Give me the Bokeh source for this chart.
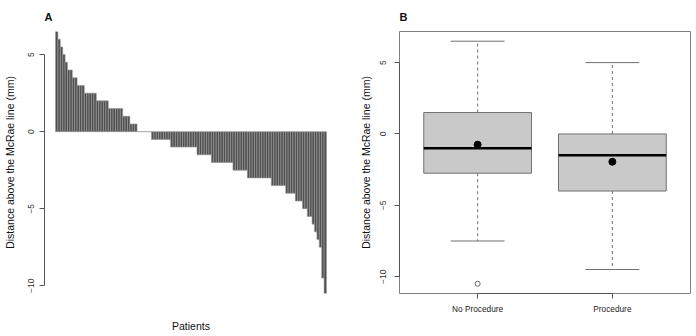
from bokeh.plotting import figure
from bokeh.layouts import row
from bokeh.models import FixedTicker, Range1d
from bokeh.embed import file_html
from bokeh.resources import INLINE

# ---- data ----
patient_values = [
    6.5, 6.0, 5.5, 5.0, 4.5, 4.0, 4.0, 3.5, 3.5, 3.0, 3.0, 3.0,
    2.5, 2.5, 2.5, 2.5, 2.5, 2.0, 2.0, 2.0, 2.0, 2.0,
    1.5, 1.5, 1.5, 1.5, 1.5, 1.5, 1.0, 1.0, 1.0, 0.5, 0.5, 0.5,
    0.0, 0.0, 0.0, 0.0, 0.0, 0.0,
    -0.5, -0.5, -0.5, -0.5, -0.5, -0.5, -0.5, -0.5,
    -1.0, -1.0, -1.0, -1.0, -1.0, -1.0, -1.0, -1.0, -1.0, -1.0, -1.0,
    -1.5, -1.5, -1.5, -1.5, -1.5, -1.5,
    -2.0, -2.0, -2.0, -2.0, -2.0, -2.0, -2.0, -2.0, -2.0,
    -2.5, -2.5, -2.5, -2.5, -2.5, -2.5,
    -3.0, -3.0, -3.0, -3.0, -3.0, -3.0, -3.0, -3.0, -3.0, -3.0,
    -3.5, -3.5, -3.5, -3.5, -3.5, -3.5,
    -4.0, -4.0, -4.0, -4.0, -4.5, -4.5, -4.5,
    -5.0, -5.0, -5.5, -5.5, -6.0, -6.5, -7.0, -7.5, -9.5, -10.5,
]
groups = ["No Procedure", "Procedure"]
box_lower = [-7.5, -9.5]
box_q1 = [-2.75, -4.0]
box_median = [-1.0, -1.5]
box_q3 = [1.5, 0.0]
box_upper = [6.5, 5.0]
box_mean = [-0.75, -1.95]
outlier_group = ["No Procedure"]
outlier_value = [-10.5]
y_ticks = [-10, -5, 0, 5]
y_title = "Distance above the McRae line (mm)"
x_title_a = "Patients"

FONT = "Liberation Sans"
AXIS_COL = "#555555"


def style_title(p, text):
    p.title.text = text
    p.title.align = "left"
    p.title.text_font = FONT
    p.title.text_font_size = "11px"
    p.title.text_font_style = "bold"
    p.title.text_color = "#111111"
    p.title.standoff = 17


def style_yaxis(ax, label_standoff, title_standoff):
    ax.ticker = FixedTicker(ticks=y_ticks)
    ax.bounds = (-10, 5)
    ax.major_tick_out = 5
    ax.major_tick_in = 0
    ax.minor_tick_line_color = None
    ax.axis_line_color = AXIS_COL
    ax.major_tick_line_color = AXIS_COL
    ax.major_label_orientation = "vertical"
    ax.major_label_text_font = FONT
    ax.major_label_text_font_size = "8.5px"
    ax.major_label_text_color = "#333333"
    ax.major_label_standoff = label_standoff
    ax.axis_label = y_title
    ax.axis_label_text_font = FONT
    ax.axis_label_text_font_size = "10.5px"
    ax.axis_label_text_font_style = "normal"
    ax.axis_label_text_color = "#111111"
    ax.axis_label_standoff = title_standoff


# ---- Panel A ----
n = len(patient_values)
idx = list(range(n))
pA = figure(width=340, height=336, x_range=Range1d(-5.1, 117.1),
            y_range=Range1d(-10.5, 6.5), output_backend="svg",
            toolbar_location=None, min_border_left=44, min_border_right=3,
            min_border_top=30, min_border_bottom=43)
pA.vbar(x=idx, top=patient_values, bottom=0, width=1,
        fill_color="#505050", line_color="#9a9a9a", line_width=0.6)
pA.grid.visible = False
pA.outline_line_color = None
style_title(pA, "A")
style_yaxis(pA.yaxis[0], 5, 10)

xa = pA.xaxis[0]
xa.ticker = FixedTicker(ticks=[])
xa.axis_line_color = None
xa.major_tick_line_color = None
xa.minor_tick_line_color = None
xa.major_tick_out = 0
xa.major_label_standoff = 0
xa.axis_label = x_title_a
xa.axis_label_text_font = FONT
xa.axis_label_text_font_size = "10.5px"
xa.axis_label_text_font_style = "normal"
xa.axis_label_text_color = "#111111"
xa.axis_label_standoff = 26

# ---- Panel B ----
xs = [i + 1 for i in range(len(groups))]
pB = figure(width=356, height=336, x_range=Range1d(0.42, 2.58),
            y_range=Range1d(-11.18, 7.18), output_backend="svg",
            toolbar_location=None, min_border_left=59, min_border_right=6,
            min_border_top=31, min_border_bottom=43)
pB.grid.visible = False
pB.outline_line_color = "#808080"
pB.outline_line_width = 1
style_title(pB, "B")

WH = "#707070"
pB.segment(x0=xs, y0=box_q3, x1=xs, y1=box_upper, line_color=WH,
           line_dash="3 3", line_width=1)
pB.segment(x0=xs, y0=box_q1, x1=xs, y1=box_lower, line_color=WH,
           line_dash="3 3", line_width=1)
pB.segment(x0=[x - 0.2 for x in xs], y0=box_upper, x1=[x + 0.2 for x in xs],
           y1=box_upper, line_color=WH, line_width=1)
pB.segment(x0=[x - 0.2 for x in xs], y0=box_lower, x1=[x + 0.2 for x in xs],
           y1=box_lower, line_color=WH, line_width=1)
pB.quad(left=[x - 0.4 for x in xs], right=[x + 0.4 for x in xs],
        bottom=box_q1, top=box_q3, fill_color="#c9c9c9", line_color=WH,
        line_width=1)
pB.segment(x0=[x - 0.4 for x in xs], y0=box_median, x1=[x + 0.4 for x in xs],
           y1=box_median, line_color="black", line_width=2.5)
pB.scatter(x=xs, y=box_mean, size=7, marker="circle", fill_color="black",
           line_color="black")
ox = [xs[groups.index(g)] for g in outlier_group]
pB.scatter(x=ox, y=outlier_value, size=5, marker="circle", fill_color=None,
           line_color="#444444", line_width=0.8)

style_yaxis(pB.yaxis[0], 8, 6)

xb = pB.xaxis[0]
xb.ticker = FixedTicker(ticks=xs)
xb.major_label_overrides = {x: g for x, g in zip(xs, groups)}
xb.bounds = (1, 2)
xb.major_tick_out = 5
xb.major_tick_in = 0
xb.minor_tick_line_color = None
xb.axis_line_color = AXIS_COL
xb.major_tick_line_color = AXIS_COL
xb.major_label_text_font = FONT
xb.major_label_text_font_size = "8.3px"
xb.major_label_text_color = "#222222"
xb.major_label_standoff = 5

layout = row(pA, pB)
open("out.html", "w").write(file_html(layout, INLINE))
